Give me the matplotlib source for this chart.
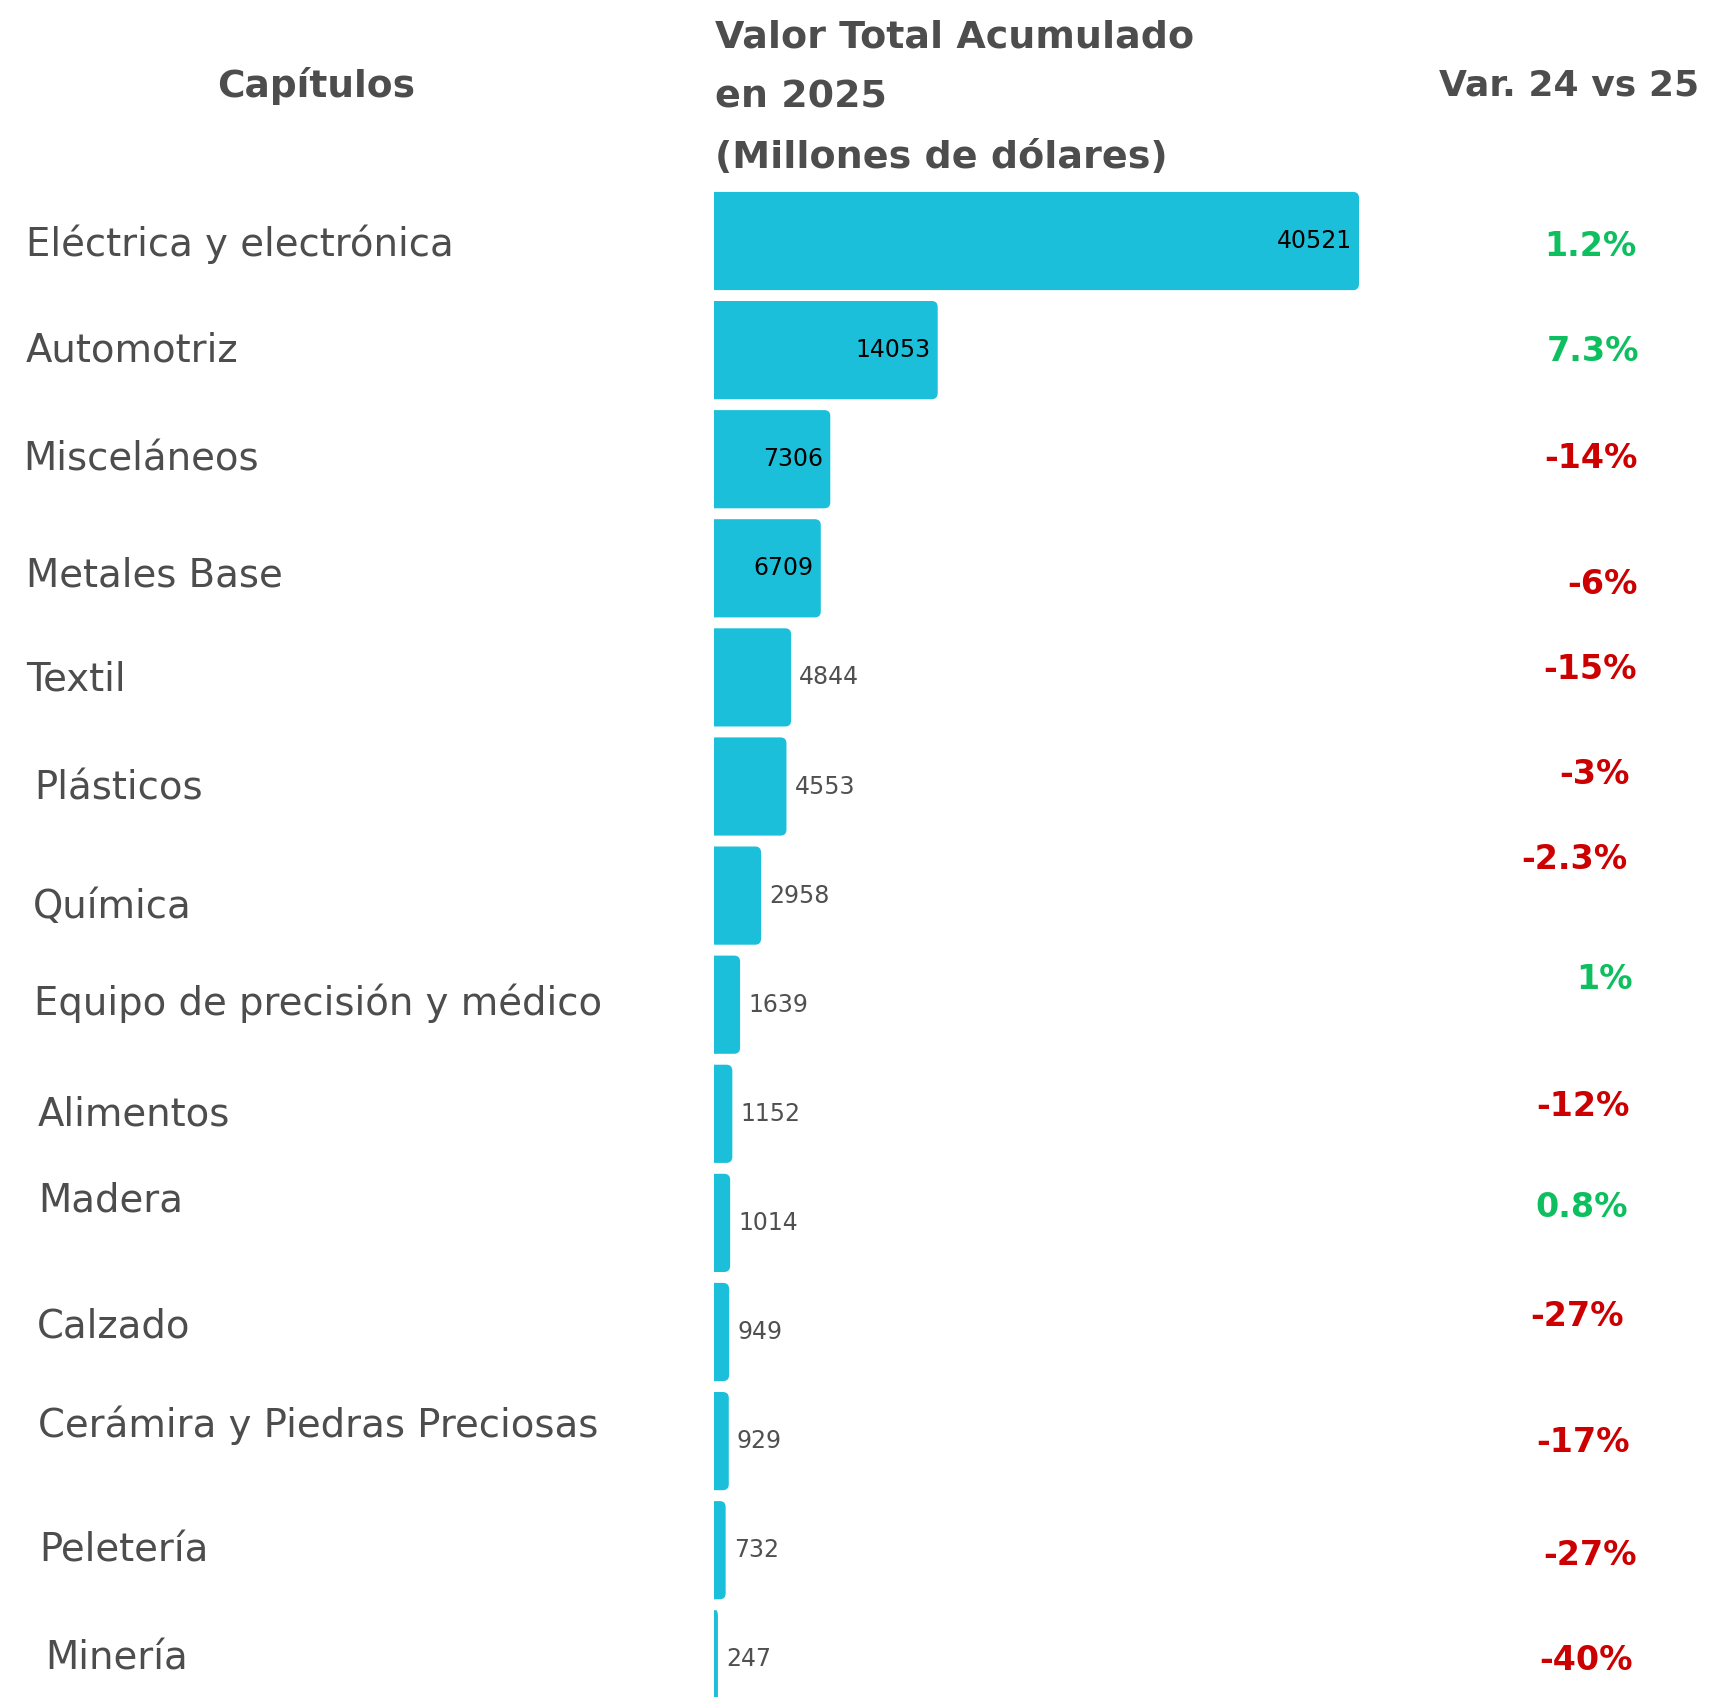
import matplotlib.pyplot as plt
from matplotlib.patches import PathPatch
from matplotlib.path import Path
from matplotlib.transforms import blended_transform_factory

capitulos = ["Eléctrica y electrónica", "Automotriz", "Misceláneos", "Metales Base", "Textil",
             "Plásticos", "Química", "Equipo de precisión y médico", "Alimentos", "Madera",
             "Calzado", "Cerámira y Piedras Preciosas", "Peletería", "Minería"]
valores = [40521, 14053, 7306, 6709, 4844, 4553, 2958, 1639, 1152, 1014, 949, 929, 732, 247]
variacion = ["1.2%", "7.3%", "-14%", "-6%", "-15%", "-3%", "-2.3%", "1%", "-12%", "0.8%",
             "-27%", "-17%", "-27%", "-40%"]

# the original labels are placed by hand, a bit off the row centres (pixels, down = +)
label_dx = [26, 26, 23, 26, 26, 34, 33, 34, 38, 38, 37, 38, 39, 45]
label_dy = [3, 0, 0, 7, 2, 2, 11, -1, 1, -22, -5, -16, 0, -1]
pct_dx = [1, 4, 3, 3, 2, -5, -8, -2, -5, -7, -11, -5, 2, -2]
pct_dy = [5, 1, -1, 16, -8, -12, -36, -25, -7, -15, -15, 1, 5, 1]

CYAN = "#1CBFD9"
GREEN = "#0DBF5F"
RED = "#CC0000"
GRAY = "#4D4D4D"

W, H = 1710, 1697
x0 = 714          # left edge of the bars
bar_full = 645    # length of the longest bar
row0 = 241        # centre of the first row
pitch = 109.1     # row spacing
bar_h = 0.9

plt.rcParams["font.family"] = ["DejaVu Sans"]

fig = plt.figure(figsize=(W / 100, H / 100), dpi=100)
ax = fig.add_axes([x0 / W, 0, 1 - x0 / W, 1])
xmax = max(valores) * (W - x0) / bar_full
ax.set_xlim(0, xmax)
ax.set_ylim((H - row0) / pitch, -row0 / pitch)
ax.axis("off")

xpp = xmax / (W - x0)   # data units per pixel
ypp = 1 / pitch


def right_rounded_bar(y, v, r_px=6):
    """Bar from 0 to v, rounded only on the right end."""
    rx = min(r_px * xpp, v / 2)
    ry = r_px * ypp
    y0, y1 = y - bar_h / 2, y + bar_h / 2
    verts = [(0, y0), (v - rx, y0), (v, y0), (v, y0 + ry), (v, y1 - ry), (v, y1),
             (v - rx, y1), (0, y1), (0, y0)]
    codes = [Path.MOVETO, Path.LINETO, Path.CURVE3, Path.CURVE3, Path.LINETO, Path.CURVE3,
             Path.CURVE3, Path.LINETO, Path.CLOSEPOLY]
    return PathPatch(Path(verts, codes), fc=CYAN, ec="none")


for i, v in enumerate(valores):
    ax.add_patch(right_rounded_bar(i, v))
    if i < 4:
        ax.text(v - 7 * xpp, i, str(v), ha="right", va="center", fontsize=17, color="black")
    else:
        ax.text(v + 8 * xpp, i, str(v), ha="left", va="center", fontsize=17, color="#505050")

# category names and variations, x in figure fraction, y in rows
tr = blended_transform_factory(fig.transFigure, ax.transData)
for i, name in enumerate(capitulos):
    ax.annotate(name, xy=(label_dx[i] / W, i), xycoords=tr, xytext=(0, -label_dy[i]),
                textcoords="offset pixels", ha="left", va="center", fontsize=27.8, color=GRAY)
    col = RED if variacion[i].startswith("-") else GREEN
    ax.annotate(variacion[i], xy=((1635 + pct_dx[i]) / W, i), xycoords=tr,
                xytext=(0, -pct_dy[i]), textcoords="offset pixels", ha="right", va="center",
                fontsize=24, fontweight="heavy", color=col)

# headers
fig.text(316 / W, 1 - 86 / H, "Capítulos", ha="center", va="center", fontsize=27,
         fontweight="bold", color=GRAY)
for k, line in enumerate(["Valor Total Acumulado", "en 2025", "(Millones de dólares)"]):
    fig.text(715 / W, 1 - (38 + 60 * k) / H, line, ha="left", va="center", fontsize=27.4,
             fontweight="bold", color=GRAY)
fig.text(1699 / W, 1 - 86 / H, "Var. 24 vs 25", ha="right", va="center", fontsize=26,
         fontweight="bold", color=GRAY)

fig.savefig("out.png", dpi=100, facecolor="white")
